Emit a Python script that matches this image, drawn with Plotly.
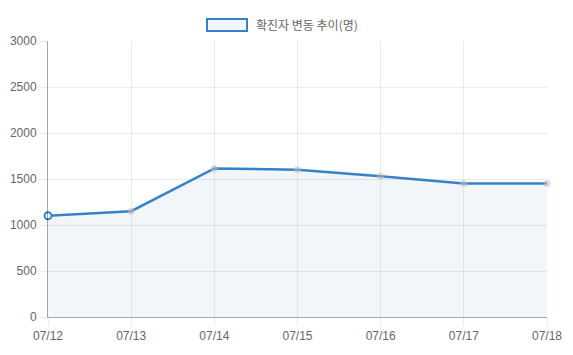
import plotly.graph_objects as go

dates = ["07/12", "07/13", "07/14", "07/15", "07/16", "07/17", "07/18"]
cases = [1100, 1150, 1615, 1600, 1530, 1450, 1450]
series_name = "확진자 변동 추이(명)"

line_color = "rgb(54,130,200)"
grid_color = "rgba(0,0,0,0.08)"
axis_color = "rgba(0,0,0,0.35)"
font_family = "Liberation Sans, Arial, Noto Sans CJK KR, sans-serif"

marker_colors = ["white"] + ["rgba(190,190,190,0.55)"] * (len(dates) - 1)
marker_line_colors = [line_color] + ["rgba(190,190,190,0.0)"] * (len(dates) - 1)

fig = go.Figure()
fig.add_trace(go.Scatter(
    x=list(range(len(dates))), y=cases, mode="lines+markers",
    name=series_name,
    line=dict(color=line_color, width=2.5),
    fill="tozeroy", fillcolor="rgba(70,120,170,0.07)",
    marker=dict(size=7, color=marker_colors,
                line=dict(color=marker_line_colors, width=2)),
    showlegend=False, cliponaxis=False,
))

# page body has an 8px default margin, so the figure is shrunk accordingly
fig.update_layout(
    width=565, height=347,
    margin=dict(l=40, r=26, t=33, b=38),
    paper_bgcolor="white", plot_bgcolor="white",
    font=dict(family=font_family, size=12, color="#666"),
    xaxis=dict(
        range=[0, len(dates) - 1], tickmode="array",
        tickvals=list(range(len(dates))), ticktext=dates,
        showgrid=True, gridcolor=grid_color, zeroline=False,
        showline=True, linecolor=axis_color, linewidth=1,
        ticks="outside", ticklen=8, tickcolor=grid_color,
        tickfont=dict(size=12, color="#666"), automargin=False,
    ),
    yaxis=dict(
        range=[0, 3000], tickmode="linear", tick0=0, dtick=500,
        showgrid=True, gridcolor=grid_color, zeroline=False,
        showline=True, linecolor=axis_color, linewidth=1,
        ticks="outside", ticklen=8, tickcolor=grid_color,
        tickfont=dict(size=12, color="#666"), automargin=False,
    ),
    shapes=[dict(
        type="rect", xref="paper", yref="paper",
        x0=(207 - 48) / 499, x1=(247 - 48) / 499,
        y0=(317 - 31) / 276, y1=(317 - 19) / 276,
        line=dict(color=line_color, width=2),
        fillcolor="rgba(70,120,170,0.07)",
    )],
    annotations=[dict(
        text=series_name, xref="paper", yref="paper",
        x=(254 - 48) / 499, y=(317 - 25) / 276,
        xanchor="left", yanchor="middle", showarrow=False,
        font=dict(family="Noto Sans CJK KR, sans-serif", size=12, color="#666"),
    )],
)

fig.write_html("out.html")
